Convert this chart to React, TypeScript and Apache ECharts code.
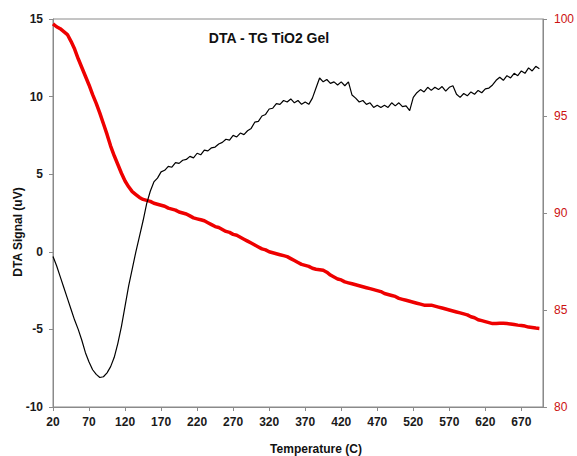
import React, { useEffect, useRef } from "react";
import * as echarts from "echarts";

const temperatures: number[] = [
  20, 25, 30, 35, 40, 45, 50, 55, 60, 65, 70, 75, 80, 85, 90, 95, 100, 105, 110, 115,
  120, 125, 130, 135, 140, 145, 150, 155, 160, 165, 170, 175, 180, 185, 190, 195, 200, 205, 210, 215,
  220, 225, 230, 235, 240, 245, 250, 255, 260, 265, 270, 275, 280, 285, 290, 295, 300, 305, 310, 315,
  320, 325, 330, 335, 340, 345, 350, 355, 360, 365, 370, 375, 380, 385, 390, 395, 400, 405, 410, 415,
  420, 425, 430, 435, 440, 445, 450, 455, 460, 465, 470, 475, 480, 485, 490, 495, 500, 505, 510, 515,
  520, 525, 530, 535, 540, 545, 550, 555, 560, 565, 570, 575, 580, 585, 590, 595, 600, 605, 610, 615,
  620, 625, 630, 635, 640, 645, 650, 655, 660, 665, 670, 675, 680, 685, 690, 695,
];

const dtaSignal: number[] = [
  -0.3, -0.9, -1.6, -2.3, -3.0, -3.7, -4.4, -5.0, -5.7, -6.5, -7.1, -7.6, -7.9, -8.1, -8.05, -7.8, -7.4, -6.8, -5.9, -4.8,
  -3.5, -2.2, -1.1, 0.0, 1.0, 2.0, 3.1, 3.9, 4.5, 4.75, 5.15, 5.25, 5.5, 5.45, 5.75, 5.7, 5.9, 5.95, 6.15, 6.05,
  6.35, 6.25, 6.55, 6.5, 6.7, 6.75, 6.95, 7.05, 7.25, 7.2, 7.5, 7.4, 7.65, 7.55, 7.8, 7.95, 8.35, 8.4, 8.75, 8.85,
  9.2, 9.25, 9.55, 9.5, 9.75, 9.65, 9.85, 9.6, 9.75, 9.5, 9.65, 9.5, 9.9, 10.55, 11.2, 10.95, 11.1, 10.85, 10.95, 10.75,
  10.95, 10.7, 10.95, 10.1, 9.9, 9.65, 9.75, 9.5, 9.6, 9.3, 9.45, 9.3, 9.45, 9.3, 9.6, 9.4, 9.6, 9.35, 9.4, 9.1,
  9.95, 10.25, 10.45, 10.3, 10.6, 10.4, 10.6, 10.45, 10.65, 10.35, 10.6, 10.7, 10.15, 9.95, 10.2, 10.05, 10.3, 10.15, 10.4, 10.25,
  10.5, 10.55, 10.75, 11.05, 11.25, 11.05, 11.35, 11.2, 11.5, 11.35, 11.65, 11.5, 11.85, 11.65, 11.95, 11.8,
];

const tgWeight: number[] = [
  99.75, 99.6, 99.5, 99.35, 99.2, 98.85, 98.45, 97.95, 97.5, 97.05, 96.6, 96.1, 95.65, 95.15, 94.6, 94.05, 93.45, 92.95, 92.5, 92.05,
  91.65, 91.35, 91.1, 90.95, 90.8, 90.7, 90.65, 90.6, 90.5, 90.45, 90.4, 90.35, 90.25, 90.2, 90.15, 90.05, 90.0, 89.95, 89.85, 89.75,
  89.7, 89.65, 89.6, 89.5, 89.4, 89.3, 89.25, 89.15, 89.05, 89.0, 88.9, 88.85, 88.75, 88.65, 88.55, 88.45, 88.35, 88.25, 88.15, 88.1,
  88.0, 87.95, 87.9, 87.85, 87.8, 87.75, 87.65, 87.55, 87.45, 87.35, 87.3, 87.25, 87.15, 87.1, 87.08, 87.05, 86.95, 86.8, 86.7, 86.6,
  86.55, 86.45, 86.4, 86.35, 86.3, 86.25, 86.2, 86.15, 86.1, 86.05, 86.0, 85.95, 85.85, 85.8, 85.75, 85.7, 85.6, 85.55, 85.5, 85.45,
  85.4, 85.35, 85.3, 85.25, 85.25, 85.25, 85.2, 85.15, 85.1, 85.05, 85.0, 84.95, 84.9, 84.85, 84.8, 84.75, 84.65, 84.6, 84.5, 84.45,
  84.4, 84.35, 84.3, 84.3, 84.32, 84.32, 84.3, 84.28, 84.25, 84.22, 84.2, 84.17, 84.12, 84.1, 84.07, 84.05,
];

const X_START = 20;
const X_END = 700;
const X_STEP = 50;
const LEFT_MIN = -10;
const LEFT_MAX = 15;
const RIGHT_MIN = 80;
const RIGHT_MAX = 100;

const TITLE = "DTA - TG TiO2 Gel";
const X_NAME = "Temperature (C)";
const Y_NAME = "DTA Signal (uV)";

const FONT = "'Liberation Sans', Arial, sans-serif";

export default function App() {
  const ref = useRef<HTMLDivElement>(null);

  useEffect(() => {
    if (!ref.current) return;
    const chart = echarts.init(ref.current, null, { renderer: "svg" });
    const dtaData = temperatures.map((t, i) => [t - X_START, dtaSignal[i]]);
    const tgData = temperatures.map((t, i) => [t - X_START, tgWeight[i]]);
    chart.setOption({
      animation: false,
      backgroundColor: "#ffffff",
      grid: {
        left: 53,
        right: 25,
        top: 19,
        bottom: 49,
        show: true,
        borderColor: "#8a8a8a",
        borderWidth: 1,
      },
      xAxis: {
        type: "value",
        min: 0,
        max: X_END - X_START,
        interval: X_STEP,
        splitLine: { show: false },
        axisLine: { onZero: false, lineStyle: { color: "#8a8a8a", width: 1 } },
        axisTick: { inside: false, length: 4, lineStyle: { color: "#8a8a8a" } },
        axisLabel: {
          formatter: (v: number) => String(v + X_START),
          color: "#1a1a1a",
          fontWeight: "bold",
          fontSize: 12,
          fontFamily: FONT,
          margin: 9,
          showMaxLabel: false,
        },
      },
      yAxis: [
        {
          type: "value",
          min: LEFT_MIN,
          max: LEFT_MAX,
          interval: 5,
          position: "left",
          splitLine: { show: false },
          axisLine: { show: true, onZero: false, lineStyle: { color: "#8a8a8a", width: 1 } },
          axisTick: { show: true, inside: false, length: 4, lineStyle: { color: "#8a8a8a" } },
          axisLabel: {
            color: "#1a1a1a",
            fontWeight: "bold",
            fontSize: 12,
            fontFamily: FONT,
            margin: 10,
          },
        },
        {
          type: "value",
          min: RIGHT_MIN,
          max: RIGHT_MAX,
          interval: 5,
          position: "right",
          splitLine: { show: false },
          axisLine: { show: true, onZero: false, lineStyle: { color: "#8a8a8a", width: 1 } },
          axisTick: { show: true, inside: false, length: 4, lineStyle: { color: "#8a8a8a" } },
          axisLabel: {
            color: "#cc1111",
            fontSize: 12,
            fontFamily: FONT,
            margin: 11,
          },
        },
      ],
      series: [
        {
          type: "line",
          name: "TG",
          yAxisIndex: 1,
          data: tgData,
          showSymbol: false,
          lineStyle: { color: "#ee0000", width: 3.5 },
          z: 2,
        },
        {
          type: "line",
          name: "DTA",
          yAxisIndex: 0,
          data: dtaData,
          showSymbol: false,
          lineStyle: { color: "#000000", width: 1.2 },
          z: 3,
        },
      ],
      graphic: [
        {
          type: "text",
          x: 269,
          y: 38,
          style: {
            text: TITLE,
            font: `bold 14px ${FONT}`,
            fill: "#111111",
            textAlign: "center",
            textVerticalAlign: "middle",
          },
        },
        {
          type: "text",
          x: 316,
          y: 449,
          style: {
            text: X_NAME,
            font: `bold 12px ${FONT}`,
            fill: "#111111",
            textAlign: "center",
            textVerticalAlign: "middle",
          },
        },
        {
          type: "text",
          x: 18,
          y: 232,
          rotation: Math.PI / 2,
          style: {
            text: Y_NAME,
            font: `bold 12px ${FONT}`,
            fill: "#111111",
            textAlign: "center",
            textVerticalAlign: "middle",
          },
        },
      ],
    });
    return () => chart.dispose();
  }, []);

  return (
    <div
      ref={ref}
      style={{ position: "fixed", left: 0, top: 0, width: 577, height: 456, background: "#fff" }}
    />
  );
}
